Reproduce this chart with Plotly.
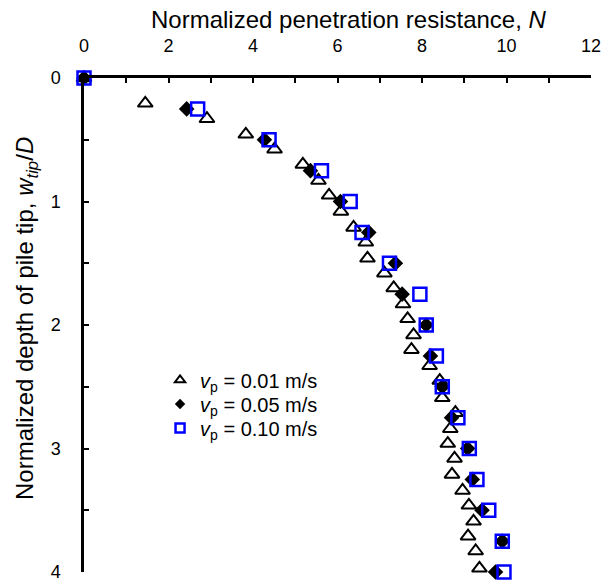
import plotly.graph_objects as go

# Data (normalized depth w_tip/D vs normalized penetration resistance N)
depth_001 = [0, 0.205, 0.33, 0.456, 0.577, 0.70, 0.83, 0.95, 1.08, 1.21, 1.33, 1.46, 1.58, 1.70,
             1.83, 1.95, 2.08, 2.20, 2.33, 2.45, 2.59, 2.71, 2.84, 2.96, 3.08, 3.21, 3.34, 3.46,
             3.59, 3.71, 3.83, 3.97]
n_001 = [0, 1.45, 2.91, 3.83, 4.51, 5.18, 5.55, 5.80, 6.08, 6.38, 6.67, 6.71, 7.11, 7.33,
         7.55, 7.66, 7.80, 7.75, 8.18, 8.42, 8.48, 8.79, 8.67, 8.61, 8.77, 8.71, 8.96, 9.11,
         9.22, 9.09, 9.27, 9.36]

depth_005 = [0, 0.25, 0.5, 0.75, 1.0, 1.25, 1.5, 1.75, 2.0, 2.25, 2.5, 2.75, 3.0, 3.25, 3.5, 3.75, 4.0]
n_005 = [0, 2.43, 4.27, 5.36, 6.07, 6.74, 7.37, 7.53, 8.10, 8.20, 8.48, 8.70, 9.08, 9.19, 9.42, 9.90, 9.74]

depth_010 = [0, 0.25, 0.5, 0.75, 1.0, 1.25, 1.5, 1.75, 2.0, 2.25, 2.5, 2.75, 3.0, 3.25, 3.5, 3.75, 4.0]
n_010 = [0, 2.69, 4.38, 5.62, 6.30, 6.58, 7.23, 7.95, 8.10, 8.34, 8.48, 8.85, 9.12, 9.30, 9.58, 9.90, 9.94]

labels = ["<i>v</i><sub>p</sub> = 0.01 m/s",
          "<i>v</i><sub>p</sub> = 0.05 m/s",
          "<i>v</i><sub>p</sub> = 0.10 m/s"]

FONT = "Liberation Sans, Arial, sans-serif"

fig = go.Figure()

fig.add_trace(go.Scatter(x=n_001, y=depth_001, mode="markers", showlegend=False, cliponaxis=False,
                         marker=dict(symbol="triangle-up-open", size=13, color="black",
                                     line=dict(width=2, color="black"))))
fig.add_trace(go.Scatter(x=n_005, y=depth_005, mode="markers", showlegend=False, cliponaxis=False,
                         marker=dict(symbol="diamond", size=12, color="black",
                                     line=dict(width=0))))
fig.add_trace(go.Scatter(x=n_010, y=depth_010, mode="markers", showlegend=False, cliponaxis=False,
                         marker=dict(symbol="square-open", size=13, color="#0000FF",
                                     line=dict(width=2.5, color="#0000FF"))))

# legend entries (smaller symbols, as in the reference), one legend per row
fig.add_trace(go.Scatter(x=[None], y=[None], mode="markers", name=labels[0], legend="legend",
                         marker=dict(symbol="triangle-up-open", size=9, color="black",
                                     line=dict(width=2, color="black"))))
fig.add_trace(go.Scatter(x=[None], y=[None], mode="markers", name=labels[1], legend="legend2",
                         marker=dict(symbol="diamond", size=8, color="black", line=dict(width=0))))
fig.add_trace(go.Scatter(x=[None], y=[None], mode="markers", name=labels[2], legend="legend3",
                         marker=dict(symbol="square-open", size=9, color="#0000FF",
                                     line=dict(width=2.5, color="#0000FF"))))

leg_common = dict(x=0.15, xanchor="left", yanchor="middle", bgcolor="rgba(0,0,0,0)",
                  font=dict(size=20, family=FONT), itemsizing="trace")

fig.update_layout(
    width=611, height=581,
    margin=dict(l=84, r=20, t=78, b=9, autoexpand=False),
    paper_bgcolor="white", plot_bgcolor="white",
    font=dict(family=FONT, color="black"),
    showlegend=True,
    legend=dict(y=0.3887, **leg_common),
    legend2=dict(y=0.3401, **leg_common),
    legend3=dict(y=0.2915, **leg_common),
    xaxis=dict(range=[0, 12], side="top", dtick=2, tick0=0,
               showgrid=False, zeroline=False,
               showline=True, linecolor="black", linewidth=2.5,
               ticks="inside", ticklen=5, tickwidth=2, tickcolor="black",
               tickfont=dict(size=18, family=FONT), ticklabelstandoff=16,
               ticklabeloverflow="allow",
               minor=dict(dtick=1, ticks="inside", ticklen=5, tickwidth=2, tickcolor="black",
                          showgrid=False),
               automargin=False),
    yaxis=dict(range=[4, 0], dtick=1, tick0=0,
               showgrid=False, zeroline=False,
               showline=True, linecolor="black", linewidth=2.5,
               ticks="inside", ticklen=5, tickwidth=2, tickcolor="black",
               tickfont=dict(size=18, family=FONT), ticklabelstandoff=17,
               ticklabeloverflow="allow",
               minor=dict(dtick=0.5, ticks="inside", ticklen=5, tickwidth=2, tickcolor="black",
                          showgrid=False),
               automargin=False),
    annotations=[
        dict(text="Normalized penetration resistance, <i>N</i>", xref="paper", yref="paper",
             x=0.522, y=1.1194, xanchor="center", yanchor="middle", showarrow=False,
             font=dict(size=24, family=FONT)),
        dict(text="Normalized depth of pile tip, <i>w</i><sub><i>tip</i></sub>/<i>D</i>",
             xref="paper", yref="paper", x=-0.1145, y=0.514, xanchor="center", yanchor="middle",
             textangle=-90, showarrow=False, font=dict(size=24, family=FONT)),
    ],
)

fig.write_html("out.html")
